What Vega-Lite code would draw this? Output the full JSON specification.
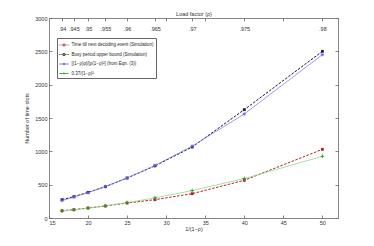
{
  "$schema": "https://vega.github.io/schema/vega-lite/v6.json",
  "width": 289,
  "height": 200,
  "autosize": {"type": "none"},
  "padding": {"left": 49, "top": 18, "right": 36, "bottom": 28},
  "background": "white",
  "config": {
    "view": {"stroke": null},
    "font": "Liberation Sans",
    "axis": {
      "grid": false,
      "domainColor": "#666",
      "tickColor": "#666",
      "labelColor": "#333",
      "titleColor": "#333",
      "labelFontSize": 5.5,
      "titleFontSize": 5.5,
      "titleFontWeight": "normal",
      "tickSize": -3,
      "domainWidth": 0.8,
      "tickWidth": 0.8
    }
  },
  "data": {
    "values": [
      {"series": "Time till next decoding event (Simulation)", "x": 16.667, "y": 110},
      {"series": "Time till next decoding event (Simulation)", "x": 18.182, "y": 125},
      {"series": "Time till next decoding event (Simulation)", "x": 20, "y": 150},
      {"series": "Time till next decoding event (Simulation)", "x": 22.222, "y": 180},
      {"series": "Time till next decoding event (Simulation)", "x": 25, "y": 225},
      {"series": "Time till next decoding event (Simulation)", "x": 28.571, "y": 275},
      {"series": "Time till next decoding event (Simulation)", "x": 33.333, "y": 365},
      {"series": "Time till next decoding event (Simulation)", "x": 40, "y": 565},
      {"series": "Time till next decoding event (Simulation)", "x": 50, "y": 1030},
      {"series": "Busy period upper bound (Simulation)", "x": 16.667, "y": 275},
      {"series": "Busy period upper bound (Simulation)", "x": 18.182, "y": 320},
      {"series": "Busy period upper bound (Simulation)", "x": 20, "y": 385},
      {"series": "Busy period upper bound (Simulation)", "x": 22.222, "y": 470},
      {"series": "Busy period upper bound (Simulation)", "x": 25, "y": 600},
      {"series": "Busy period upper bound (Simulation)", "x": 28.571, "y": 782},
      {"series": "Busy period upper bound (Simulation)", "x": 33.333, "y": 1065},
      {"series": "Busy period upper bound (Simulation)", "x": 40, "y": 1625},
      {"series": "Busy period upper bound (Simulation)", "x": 50, "y": 2500},
      {"series": "[(1−ρ)ρ]/[ρ(1−ρ)²]  (from Eqn. (3))", "x": 16.667, "y": 261},
      {"series": "[(1−ρ)ρ]/[ρ(1−ρ)²]  (from Eqn. (3))", "x": 18.182, "y": 312},
      {"series": "[(1−ρ)ρ]/[ρ(1−ρ)²]  (from Eqn. (3))", "x": 20, "y": 380},
      {"series": "[(1−ρ)ρ]/[ρ(1−ρ)²]  (from Eqn. (3))", "x": 22.222, "y": 472},
      {"series": "[(1−ρ)ρ]/[ρ(1−ρ)²]  (from Eqn. (3))", "x": 25, "y": 600},
      {"series": "[(1−ρ)ρ]/[ρ(1−ρ)²]  (from Eqn. (3))", "x": 28.571, "y": 788},
      {"series": "[(1−ρ)ρ]/[ρ(1−ρ)²]  (from Eqn. (3))", "x": 33.333, "y": 1078},
      {"series": "[(1−ρ)ρ]/[ρ(1−ρ)²]  (from Eqn. (3))", "x": 40, "y": 1560},
      {"series": "[(1−ρ)ρ]/[ρ(1−ρ)²]  (from Eqn. (3))", "x": 50, "y": 2450},
      {"series": "0.37/(1−ρ)²", "x": 16.667, "y": 103},
      {"series": "0.37/(1−ρ)²", "x": 18.182, "y": 122},
      {"series": "0.37/(1−ρ)²", "x": 20, "y": 148},
      {"series": "0.37/(1−ρ)²", "x": 22.222, "y": 183},
      {"series": "0.37/(1−ρ)²", "x": 25, "y": 231},
      {"series": "0.37/(1−ρ)²", "x": 28.571, "y": 302},
      {"series": "0.37/(1−ρ)²", "x": 33.333, "y": 411},
      {"series": "0.37/(1−ρ)²", "x": 40, "y": 592},
      {"series": "0.37/(1−ρ)²", "x": 50, "y": 925}
    ]
  },
  "encoding": {
    "x": {"field": "x", "type": "quantitative", "scale": {"domain": [15, 52], "nice": false, "zero": false}, "axis": null},
    "y": {"field": "y", "type": "quantitative", "scale": {"domain": [0, 3000], "nice": false}, "axis": null}
  },
  "layer": [
    {
      "transform": [{"filter": {"field": "series", "equal": "Time till next decoding event (Simulation)"}}],
      "mark": {"type": "line", "color": "#b22222", "strokeDash": [2.5, 1.5], "strokeWidth": 1},
      "encoding": {
        "x": {"field": "x", "type": "quantitative", "scale": {"domain": [15, 52], "nice": false, "zero": false},
          "axis": {"orient": "bottom", "values": [15, 20, 25, 30, 35, 40, 45, 50], "title": "1/(1−ρ)", "labelPadding": 5, "titlePadding": 1}},
        "y": {"field": "y", "type": "quantitative", "scale": {"domain": [0, 3000], "nice": false},
          "axis": {"orient": "left", "values": [0, 500, 1000, 1500, 2000, 2500, 3000], "format": "d", "title": "Number of time slots", "labelPadding": 5, "titlePadding": 5}}
      }
    },
    {
      "transform": [{"filter": {"field": "series", "equal": "Time till next decoding event (Simulation)"}}],
      "mark": {"type": "point", "shape": "square", "filled": true, "color": "#b22222", "size": 8, "opacity": 1}
    },
    {
      "transform": [{"filter": {"field": "series", "equal": "Busy period upper bound (Simulation)"}}],
      "mark": {"type": "line", "color": "#111111", "strokeDash": [2.5, 1.5], "strokeWidth": 1}
    },
    {
      "transform": [{"filter": {"field": "series", "equal": "Busy period upper bound (Simulation)"}}],
      "mark": {"type": "point", "shape": "square", "filled": true, "color": "#222222", "size": 8, "opacity": 1}
    },
    {
      "transform": [{"filter": {"field": "series", "equal": "[(1−ρ)ρ]/[ρ(1−ρ)²]  (from Eqn. (3))"}}],
      "mark": {"type": "line", "color": "#8080ff", "strokeWidth": 0.8}
    },
    {
      "transform": [{"filter": {"field": "series", "equal": "[(1−ρ)ρ]/[ρ(1−ρ)²]  (from Eqn. (3))"}}],
      "mark": {"type": "point", "shape": "M-1,0H1M0,-1V1M-0.7,-0.7L0.7,0.7M-0.7,0.7L0.7,-0.7", "filled": false, "color": "#5a5aff", "size": 12, "strokeWidth": 0.7, "opacity": 1}
    },
    {
      "transform": [{"filter": {"field": "series", "equal": "0.37/(1−ρ)²"}}],
      "mark": {"type": "line", "color": "#8fd88f", "strokeWidth": 0.8}
    },
    {
      "transform": [{"filter": {"field": "series", "equal": "0.37/(1−ρ)²"}}],
      "mark": {"type": "point", "shape": "M-1,0H1M0,-1V1", "filled": false, "color": "#1a9e1a", "size": 14, "strokeWidth": 0.9, "opacity": 1},
      "encoding": {
        "x": {"field": "x", "type": "quantitative", "scale": {"domain": [15, 52], "nice": false, "zero": false},
          "axis": {"orient": "top", "values": [16.6667, 18.1818, 20, 22.2222, 25, 28.5714, 30, 33.3333, 35, 40, 45, 50],
            "labelExpr": "datum.value == 30 || datum.value == 35 || datum.value == 45 ? '' : replace(format(1 - 1/datum.value, '.3~f'), '0.', '.')",
            "labelBaseline": "top", "labelPadding": -5, "title": "Load factor (ρ)", "titlePadding": 1}},
        "y": {"field": "y", "type": "quantitative", "scale": {"domain": [0, 3000], "nice": false},
          "axis": {"orient": "right", "values": [0, 500, 1000, 1500, 2000, 2500, 3000], "labels": false, "title": null}}
      }
    },
    {
      "transform": [{"filter": "false"}],
      "mark": {"type": "point", "filled": false, "strokeWidth": 0.8, "opacity": 1},
      "encoding": {
        "color": {"field": "series", "type": "nominal",
          "scale": {"domain": ["Time till next decoding event (Simulation)", "Busy period upper bound (Simulation)", "[(1−ρ)ρ]/[ρ(1−ρ)²]  (from Eqn. (3))", "0.37/(1−ρ)²"],
            "range": ["#b22222", "#111111", "#5a5aff", "#1a9e1a"]},
          "legend": {"orient": "none", "legendX": 8, "legendY": 20, "title": null, "strokeColor": "#666", "fillColor": "white", "padding": 1.5, "labelFontSize": 4.5, "labelColor": "#222", "symbolSize": 90, "symbolStrokeWidth": 0.8, "rowPadding": 0.5, "labelOffset": 2, "symbolOffset": 0}},
        "shape": {"field": "series", "type": "nominal",
          "scale": {"domain": ["Time till next decoding event (Simulation)", "Busy period upper bound (Simulation)", "[(1−ρ)ρ]/[ρ(1−ρ)²]  (from Eqn. (3))", "0.37/(1−ρ)²"],
            "range": ["M-1,0H-0.75M-0.55,0H-0.3M0.3,0H0.55M0.75,0H1M-0.2,-0.2H0.2V0.2H-0.2Z", "M-1,0H-0.75M-0.55,0H-0.3M0.3,0H0.55M0.75,0H1M-0.2,-0.2H0.2V0.2H-0.2Z", "M-1,0H1M0,-0.25V0.25M-0.18,-0.18L0.18,0.18M-0.18,0.18L0.18,-0.18", "M-1,0H1M0,-0.25V0.25"]},
          "legend": {"orient": "none", "legendX": 8, "legendY": 20, "title": null, "strokeColor": "#666", "fillColor": "white", "padding": 1.5, "labelFontSize": 4.5, "labelColor": "#222", "symbolSize": 90, "symbolStrokeWidth": 0.8, "rowPadding": 0.5, "labelOffset": 2, "symbolOffset": 0}}
      }
    }
  ],
  "resolve": {"axis": {"x": "independent", "y": "independent"}}
}
